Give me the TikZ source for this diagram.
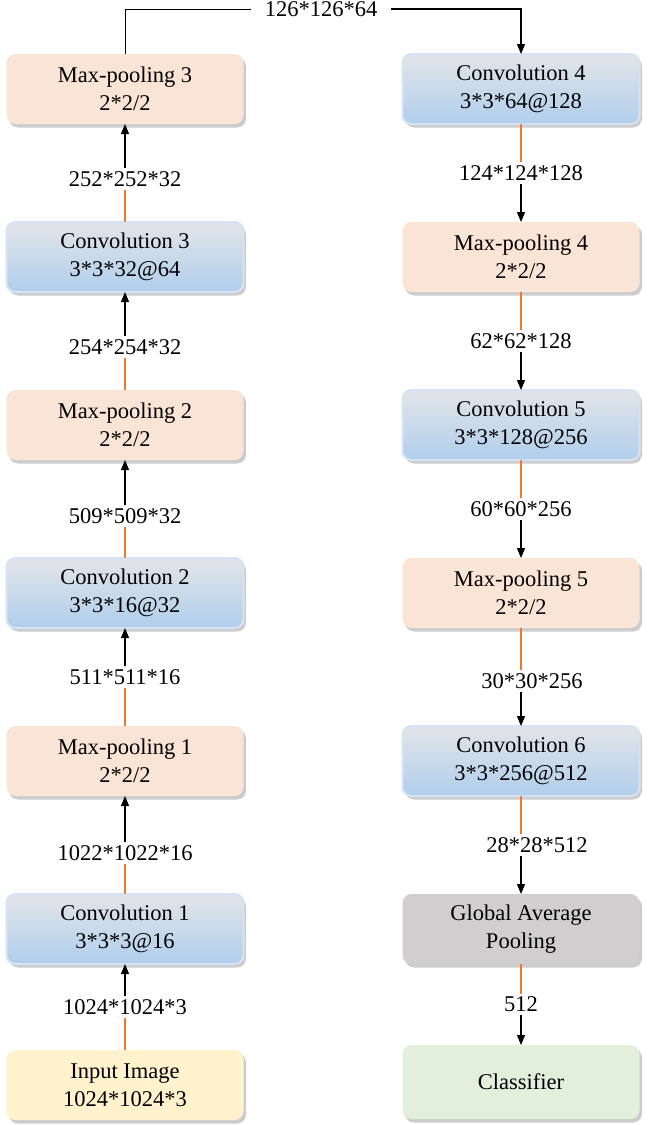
\documentclass[tikz,border=0pt]{standalone}
\usepackage{fontspec}
\setmainfont{Liberation Serif}
\usepackage{xcolor}
\usepackage{tikz}
\usetikzlibrary{arrows.meta, positioning, calc, shadows}
\definecolor{poolcolor}{RGB}{250, 228, 213}
\definecolor{convtop}{RGB}{226, 229, 233}
\definecolor{convbottom}{RGB}{176, 206, 236}
\definecolor{convedge}{RGB}{212, 228, 245}
\definecolor{inputcolor}{RGB}{255, 242, 204}
\definecolor{classcolor}{RGB}{226, 239, 218}
\definecolor{gapcolor}{RGB}{208, 206, 206}
\definecolor{floworange}{RGB}{240, 120, 40}
\newcommand{\netfont}{\fontsize{22.5}{28}\selectfont}

\begin{document}
\begin{tikzpicture}[
    x=1pt, y=-1pt,
    node distance=98pt,
    box/.style={rounded corners=9pt, minimum width=237pt, minimum height=70pt, align=center, outer sep=0pt, font=\netfont,
        drop shadow={shadow xshift=2.5pt, shadow yshift=-3.5pt, opacity=0.5, fill=gray!80}},
    pool/.style={box, fill=poolcolor},
    conv/.style={box, top color=convtop, bottom color=convbottom, draw=convedge, line width=2pt},
    lbl/.style={font=\netfont, inner sep=3pt},
    link/.style={color=floworange, line width=1.2pt},
    arrow/.style={-{Triangle[length=10pt, width=8pt]}, line width=1.1pt}
]
    \useasboundingbox (0,0) rectangle (648,1125);

    \node[pool] (pool3) at (125,89) {Max-pooling 3\\2*2/2};
    \node[conv, below=of pool3] (conv3) {Convolution 3\\3*3*32@64};
    \node[pool, below=of conv3] (pool2) {Max-pooling 2\\2*2/2};
    \node[conv, below=of pool2] (conv2) {Convolution 2\\3*3*16@32};
    \node[pool, below=of conv2] (pool1) {Max-pooling 1\\2*2/2};
    \node[conv, below=of pool1] (conv1) {Convolution 1\\3*3*3@16};
    \node[box, fill=inputcolor, below=86pt of conv1] (input) {Input Image\\1024*1024*3};

    \node[conv] (conv4) at (521,89) {Convolution 4\\3*3*64@128};
    \node[pool, below=of conv4] (pool4) {Max-pooling 4\\2*2/2};
    \node[conv, below=of pool4] (conv5) {Convolution 5\\3*3*128@256};
    \node[pool, below=of conv5] (pool5) {Max-pooling 5\\2*2/2};
    \node[conv, below=of pool5] (conv6) {Convolution 6\\3*3*256@512};
    \node[box, fill=gapcolor, below=of conv6] (gap) {Global Average\\Pooling};
    \node[box, fill=classcolor, minimum height=74pt, below=81pt of gap] (classifier) {Classifier};

    \node[lbl] (s1) at ($(input.north)!0.5!(conv1.south)$) {1024*1024*3};
    \node[lbl, yshift=-8pt] (s2) at ($(conv1.north)!0.5!(pool1.south)$) {1022*1022*16};
    \node[lbl] (s3) at ($(pool1.north)!0.5!(conv2.south)$) {511*511*16};
    \node[lbl, yshift=-7pt] (s4) at ($(conv2.north)!0.5!(pool2.south)$) {509*509*32};
    \node[lbl, yshift=-6pt] (s5) at ($(pool2.north)!0.5!(conv3.south)$) {254*254*32};
    \node[lbl, yshift=-6pt] (s6) at ($(conv3.north)!0.5!(pool3.south)$) {252*252*32};
    \node[lbl, inner xsep=14pt] (s7) at (321,9) {126*126*64};
    \node[lbl] (s8) at ($(conv4.south)!0.5!(pool4.north)$) {124*124*128};
    \node[lbl] (s9) at ($(pool4.south)!0.5!(conv5.north)$) {62*62*128};
    \node[lbl] (s10) at ($(conv5.south)!0.5!(pool5.north)$) {60*60*256};
    \node[lbl, xshift=11pt, yshift=-4pt] (s11) at ($(pool5.south)!0.5!(conv6.north)$) {30*30*256};
    \node[lbl, xshift=16pt] (s12) at ($(conv6.south)!0.5!(gap.north)$) {28*28*512};
    \node[lbl] (s13) at ($(gap.south)!0.5!(classifier.north)$) {512};

    \draw[link] (input) -- (s1);
    \draw[arrow] (s1) -- (conv1);
    \draw[link] (conv1) -- (s2);
    \draw[arrow] (s2) -- (pool1);
    \draw[link] (pool1) -- (s3);
    \draw[arrow] (s3) -- (conv2);
    \draw[link] (conv2) -- (s4);
    \draw[arrow] (s4) -- (pool2);
    \draw[link] (pool2) -- (s5);
    \draw[arrow] (s5) -- (conv3);
    \draw[link] (conv3) -- (s6);
    \draw[arrow] (s6) -- (pool3);
    \draw[line width=1pt] (pool3) |- (s7);
    \draw[arrow] (s7) -| (conv4);
    \draw[link] (conv4) -- (s8);
    \draw[arrow] (s8) -- (pool4);
    \draw[link] (pool4) -- (s9);
    \draw[arrow] (s9) -- (conv5);
    \draw[link] (conv5) -- (s10);
    \draw[arrow] (s10) -- (pool5);
    \draw[link] (pool5) -- (pool5 |- s11.north);
    \draw[arrow] (conv6 |- s11.south) -- (conv6);
    \draw[link] (conv6) -- (conv6 |- s12.north);
    \draw[arrow] (gap |- s12.south) -- (gap);
    \draw[link] (gap) -- (s13);
    \draw[arrow] (s13) -- (classifier);
\end{tikzpicture}
\end{document}
